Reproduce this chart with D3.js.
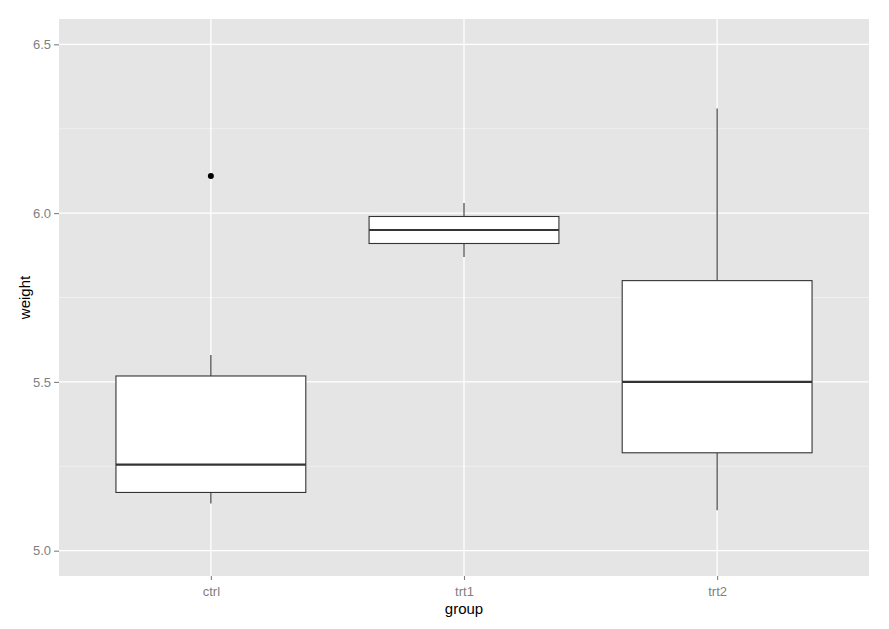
<!DOCTYPE html>
<html>
<head>
<meta charset="utf-8">
<script src="https://cdn.jsdelivr.net/npm/d3@7"></script>
<style>
  body { margin: 0; background: #fff; }
  text { font-family: "Liberation Sans", Arial, sans-serif; }
</style>
</head>
<body>
<div id="vis"></div>
<script>
// Datos (resumen de cada caja)
const GROUPS = ["ctrl", "trt1", "trt2"];
const Q1 = [5.1725, 5.91, 5.29];
const MEDIAN = [5.255, 5.95, 5.50];
const Q3 = [5.5175, 5.99, 5.80];
const WHISKER_LOW = [5.14, 5.87, 5.12];
const WHISKER_HIGH = [5.58, 6.03, 6.31];
const OUTLIERS = [{ group: "ctrl", value: 6.11 }];

const Y_TICKS = [5.0, 5.5, 6.0, 6.5];
const Y_MINOR = [5.25, 5.75, 6.25];

const WIDTH = 889;
const HEIGHT = 629;

const MARGIN = {
  top: 19,
  bottom: 53,
  right: 20,
  left: 59,
};

const innerW = WIDTH - MARGIN.left - MARGIN.right;
const innerH = HEIGHT - MARGIN.top - MARGIN.bottom;

const boxes = GROUPS.map((g, i) => ({
  group: g,
  q1: Q1[i],
  median: MEDIAN[i],
  q3: Q3[i],
  low: WHISKER_LOW[i],
  high: WHISKER_HIGH[i],
}));

const svg = d3.select("#vis")
  .append("svg")
  .attr("width", WIDTH)
  .attr("height", HEIGHT);

const panel = svg.append("g")
  .attr("transform", `translate(${MARGIN.left}, ${MARGIN.top})`);

// escalas: limites 5 - 6.5 con la expansion de ggplot (5%)
const y = d3.scaleLinear()
  .domain([5 - 0.075, 6.5 + 0.075])
  .range([innerH, 0]);

// discreto: 0.6 unidades de expansion a cada lado
const x = d3.scalePoint()
  .domain(GROUPS)
  .range([0, innerW])
  .padding(0.6);

const step = x.step();
const boxW = step * 0.75;

// fondo del panel
panel.append("rect")
  .attr("width", innerW)
  .attr("height", innerH)
  .attr("fill", "#e5e5e5");

// grilla menor
panel.selectAll(".minor")
  .data(Y_MINOR)
  .join("line")
  .attr("class", "minor")
  .attr("x1", 0)
  .attr("x2", innerW)
  .attr("y1", d => y(d))
  .attr("y2", d => y(d))
  .attr("stroke", "#f2f2f2")
  .attr("stroke-width", 0.8);

// grilla mayor
panel.selectAll(".major-y")
  .data(Y_TICKS)
  .join("line")
  .attr("class", "major-y")
  .attr("x1", 0)
  .attr("x2", innerW)
  .attr("y1", d => y(d))
  .attr("y2", d => y(d))
  .attr("stroke", "#ffffff")
  .attr("stroke-width", 1.3);

panel.selectAll(".major-x")
  .data(GROUPS)
  .join("line")
  .attr("class", "major-x")
  .attr("x1", d => x(d))
  .attr("x2", d => x(d))
  .attr("y1", 0)
  .attr("y2", innerH)
  .attr("stroke", "#ffffff")
  .attr("stroke-width", 1.3);

// cajas
const boxG = panel.selectAll(".box")
  .data(boxes)
  .join("g")
  .attr("class", "box");

boxG.append("line")
  .attr("x1", d => x(d.group))
  .attr("x2", d => x(d.group))
  .attr("y1", d => y(d.high))
  .attr("y2", d => y(d.q3))
  .attr("stroke", "#333333")
  .attr("stroke-width", 1.1);

boxG.append("line")
  .attr("x1", d => x(d.group))
  .attr("x2", d => x(d.group))
  .attr("y1", d => y(d.q1))
  .attr("y2", d => y(d.low))
  .attr("stroke", "#333333")
  .attr("stroke-width", 1.1);

boxG.append("rect")
  .attr("x", d => x(d.group) - boxW / 2)
  .attr("width", boxW)
  .attr("y", d => y(d.q3))
  .attr("height", d => y(d.q1) - y(d.q3))
  .attr("fill", "#ffffff")
  .attr("stroke", "#333333")
  .attr("stroke-width", 1.1);

boxG.append("line")
  .attr("x1", d => x(d.group) - boxW / 2)
  .attr("x2", d => x(d.group) + boxW / 2)
  .attr("y1", d => y(d.median))
  .attr("y2", d => y(d.median))
  .attr("stroke", "#333333")
  .attr("stroke-width", 2.2);

panel.selectAll(".outlier")
  .data(OUTLIERS)
  .join("circle")
  .attr("class", "outlier")
  .attr("cx", d => x(d.group))
  .attr("cy", d => y(d.value))
  .attr("r", 3)
  .attr("fill", "#000000");

// ejes
const yAxis = panel.append("g")
  .call(d3.axisLeft(y).tickValues(Y_TICKS).tickFormat(d3.format(".1f")).tickSize(5).tickPadding(3));

const xAxis = panel.append("g")
  .attr("transform", `translate(0, ${innerH})`)
  .call(d3.axisBottom(x).tickSize(4).tickPadding(7));

[yAxis, xAxis].forEach(ax => {
  ax.select(".domain").remove();
  ax.selectAll(".tick line").attr("stroke", "#7f7f7f").attr("stroke-width", 1.1);
  ax.selectAll(".tick text")
    .attr("fill", "#7f7f7f")
    .style("font-size", "13px");
});

// titulos
svg.append("text")
  .attr("x", MARGIN.left + innerW / 2)
  .attr("y", 614)
  .attr("text-anchor", "middle")
  .style("font-size", "15px")
  .attr("fill", "#000")
  .text("group");

svg.append("text")
  .attr("transform", `translate(30, ${MARGIN.top + innerH / 2}) rotate(-90)`)
  .attr("text-anchor", "middle")
  .style("font-size", "15px")
  .attr("fill", "#000")
  .text("weight");
</script>
</body>
</html>
